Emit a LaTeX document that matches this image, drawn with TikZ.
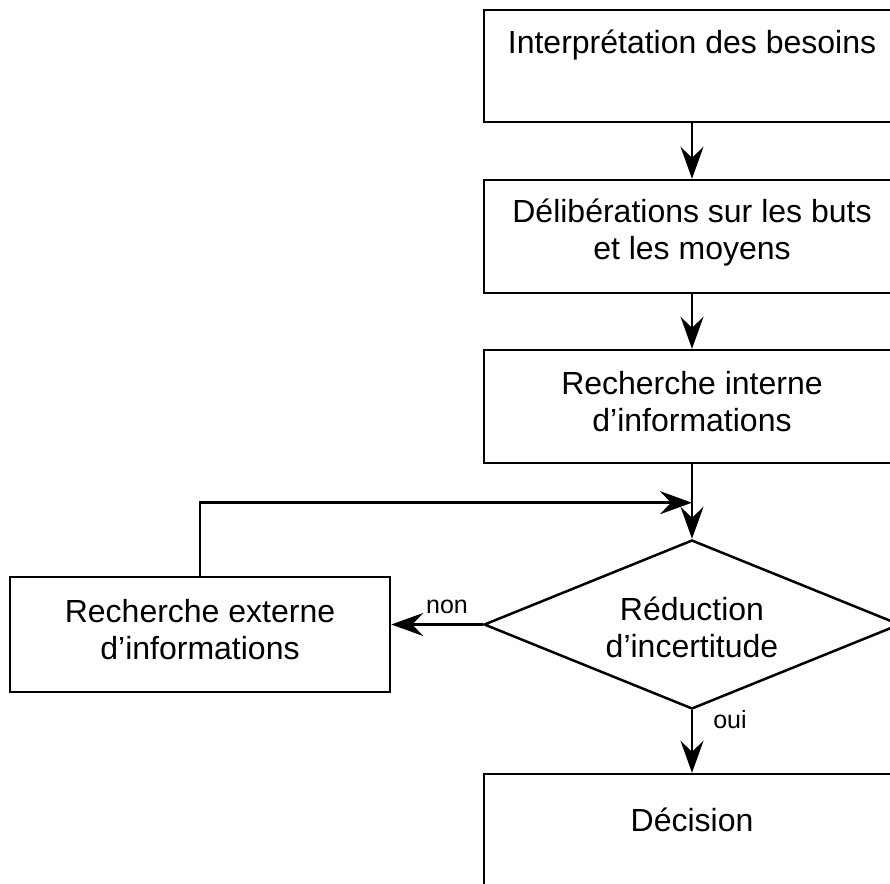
\documentclass[tikz,border=0pt]{standalone}
\usepackage{fontspec}
\setmainfont{Liberation Sans}
\usetikzlibrary{arrows.meta,shapes.geometric}
\begin{document}
\begin{tikzpicture}[x=1pt,y=-1pt,
  box/.style={draw,line width=2.5pt,minimum width=416pt,minimum height=113pt,inner sep=0pt},
  txt/.style={align=center,font=\fontsize{32}{37}\selectfont,inner sep=0pt},
  lbl/.style={font=\fontsize{25}{28}\selectfont,inner sep=0pt},
  conn/.style={line width=2.5pt,-{Stealth[length=32pt,width=23pt,inset=11pt]}}]
\useasboundingbox (0,0) rectangle (890,883);
\node[box,minimum height=112pt] (b1) at (692,66) {};
\node[txt] (t1) at (692,45) {Interprétation des besoins};
\node[box] (b2) at (692,236.5) {};
\node[txt] (t2) at (692,232.5) {Délibérations sur les buts\\et les moyens};
\node[box] (b3) at (692,406.5) {};
\node[txt] (t3) at (692,402) {Recherche interne\\d’informations};
\node[draw,line width=2.5pt,diamond,minimum width=416pt,minimum height=169pt,inner sep=0pt] (d) at (692,624.5) {};
\node[txt] (td) at (692,627) {Réduction\\d’incertitude};
\node[box,minimum width=380pt,minimum height=115pt] (lb) at (200,634.5) {};
\node[txt] (tl) at (200,629.5) {Recherche externe\\d’informations};
\node[box] (b5) at (692,830.5) {};
\node[txt] (t5) at (692,820) {Décision};
\node[lbl] (non) at (447,607) {non};
\node[lbl] (oui) at (730,720) {oui};
\coordinate (m) at (692,502.7);
\draw[conn] (b1.south) -- (b2.north);
\draw[conn] (b2.south) -- (b3.north);
\draw[conn] (b3.south) -- (d.north);
\draw[conn] (lb.north) |- (m);
\draw[conn] (d.west) -- (lb.east |- d.west);
\draw[conn] (d.south) -- (b5.north);
\end{tikzpicture}
\end{document}
